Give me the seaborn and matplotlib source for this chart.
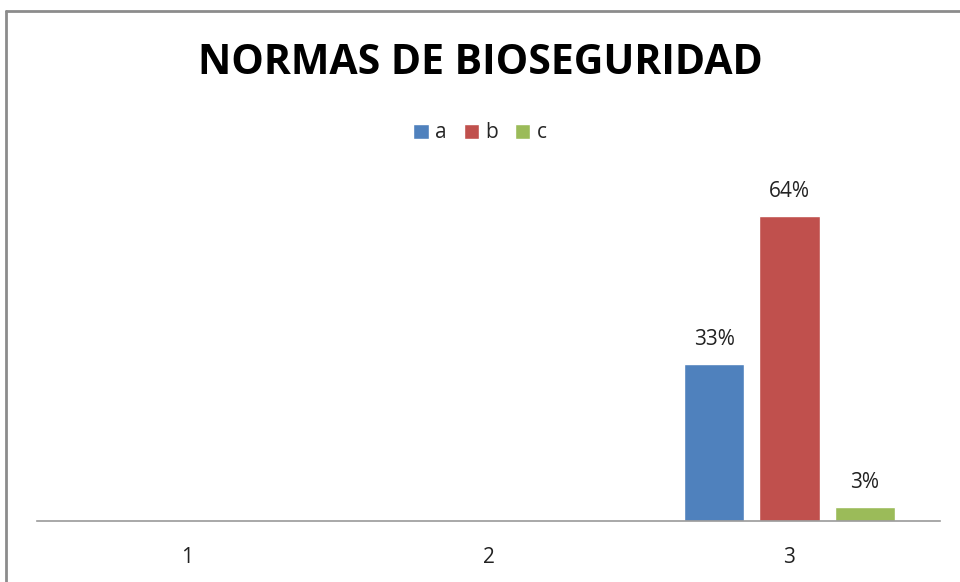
import matplotlib
matplotlib.use("Agg")
import matplotlib.pyplot as plt
import pandas as pd
import seaborn as sns
from matplotlib.lines import Line2D

# ---------------------------------------------------------
# Data
# ---------------------------------------------------------
categories = ["1", "2", "3"]
series = ["a", "b", "c"]
group = ["3", "3", "3"]
values = [0.33, 0.64, 0.03]
colors = ["#4F81BD", "#C0504D", "#9BBB59"]

df = pd.DataFrame({"grupo": group, "serie": series, "valor": values})

# ---------------------------------------------------------
# Plot
# ---------------------------------------------------------
sns.set_style("white")
plt.rcParams["font.family"] = ["Open Sans", "DejaVu Sans"]

fig = plt.figure(figsize=(9.6, 5.82), dpi=100)
ax = fig.add_axes([37 / 960, 1 - 521 / 582, 903 / 960, 0.573])

sns.barplot(data=df, x="grupo", y="valor", hue="serie", order=categories,
            hue_order=series, palette=colors, width=0.75, gap=0.2,
            saturation=1, ax=ax)

for cont in ax.containers:
    ax.bar_label(cont, fmt="{:.0%}", padding=10, fontsize=15, color="#222222")

ax.set_ylim(0, 0.7)
ax.set_xlim(-0.5, 2.5)
ax.set_xlabel("")
ax.set_ylabel("")
ax.set_yticks([])
ax.tick_params(axis="x", length=0, pad=19, labelsize=15, labelcolor="#222222")
sns.despine(ax=ax, left=True)
ax.spines["bottom"].set_color("#9a9a9a")
ax.spines["bottom"].set_linewidth(1.2)

sns.move_legend(ax, "center", bbox_to_anchor=(0.5, 1 - 133 / 582),
                bbox_transform=fig.transFigure, ncol=3, frameon=False,
                title=None, fontsize=15, handlelength=0.75, handleheight=0.75,
                handletextpad=0.3, columnspacing=0.8)

fig.text(0.5, 1 - 64 / 582, "NORMAS DE BIOSEGURIDAD", ha="center",
         va="center", fontsize=29.5, fontweight="bold", color="black")

# outer chart border (top and left only visible)
fig.add_artist(Line2D([6 / 960, 6 / 960], [0, 1 - 11 / 582], transform=fig.transFigure,
                      color="#8c8c8c", linewidth=2))
fig.add_artist(Line2D([6 / 960, 1], [1 - 11 / 582, 1 - 11 / 582], transform=fig.transFigure,
                      color="#8c8c8c", linewidth=2))

fig.savefig("out.png", dpi=100)
plt.close(fig)
